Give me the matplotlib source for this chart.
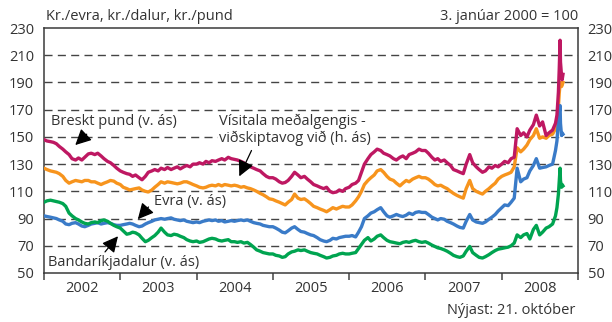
import numpy as np
import pandas as pd
import matplotlib
matplotlib.use('Agg')
import matplotlib.pyplot as plt

plt.rcParams['font.family'] = ['Open Sans', 'DejaVu Sans']

# dates: 1st and 15th of each month, then denser points through the October crash
dates = list(pd.date_range('2002-01-01', '2008-09-15', freq='SMS'))
dates += list(pd.to_datetime(['2008-09-22', '2008-09-29', '2008-10-03', '2008-10-07',
                              '2008-10-09', '2008-10-14', '2008-10-17', '2008-10-21']))

# Breskt pund (kr./pund), left axis
gbp = [148, 147, 146.5, 146, 145, 143, 141, 139, 137, 134, 133, 134.5, 133, 135, 137.5, 138, 137, 138, 136, 134, 132, 131, 129, 127,
       125, 124, 123, 122.5, 121, 122, 120, 118.5, 121, 124, 125, 126, 125, 127, 126, 127.5, 126, 127, 128, 126.5, 128, 129, 128, 130,
       130, 131, 130, 132, 131, 132.5, 132, 133, 134, 133, 135, 134, 133.5, 133, 132, 131, 129, 128, 127, 126, 125, 123, 121, 120,
       120, 119, 117, 116, 116.5, 118, 121, 124, 122, 120, 121, 119, 117, 115, 114, 113, 112, 113, 110, 109, 109.5, 111, 110, 112,
       113, 115, 116, 118, 124, 130, 134, 137, 139, 141, 140, 138, 137, 136, 134, 133, 135, 136, 134, 137, 138, 139, 141, 140,
       140, 138, 135, 133, 134, 132, 133, 131, 129, 126, 125, 124, 123, 130, 137, 131, 128, 126, 124, 125, 128, 127, 129, 128,
       130, 132, 131, 134, 135, 156, 151, 153, 150, 155, 159, 166, 158, 161, 151, 153, 155, 160,
       166, 183, 200, 221, 205, 195, 192, 196]

# Vísitala meðalgengis - viðskiptavog við (3. jan 2000 = 100), right axis
isk_index = [127, 126, 125, 124.5, 124, 123, 121, 118, 116, 117, 118, 117.5, 117, 118, 118, 117, 117, 116, 115, 116, 117, 118, 117.5, 116,
             115, 113, 112, 111, 111.5, 112, 112.5, 111, 110, 109.5, 111, 113, 115, 117, 116, 117, 116.5, 116, 115.5, 116, 117, 117, 116, 115,
             114, 113, 112.5, 113, 114, 114.5, 114, 115, 114, 115, 114.5, 114, 114.5, 114, 113, 113.5, 112.5, 112, 111, 110, 108.5, 107.5, 106, 104.5,
             104, 103, 102, 101, 100, 102, 104, 108, 105, 104, 104.5, 103, 101, 99, 98, 97, 96, 95, 96.5, 98, 97, 98, 99, 98.5,
             98.5, 100, 103, 106, 110, 115, 118, 120, 122, 125, 126, 124, 121, 119, 118, 116, 114, 116, 118, 117, 119, 120, 121, 120,
             120, 119, 117, 115, 114, 114.5, 113, 112, 110, 108.5, 107, 106, 105, 112, 118, 112, 110, 109, 108, 110, 112, 114, 116, 119,
             121, 122, 123, 124, 128, 142, 139, 141, 144, 148, 151, 156, 149, 150, 149, 151, 152, 156,
             160, 172, 182, 189, 190, 187, 188, 190]

# Evra (kr./evra), left axis
eur = [92, 91.5, 91, 90.5, 90, 89, 88, 86, 85.5, 86.5, 87, 86, 84.5, 84, 85, 86, 86.5, 87, 86, 86.5, 87, 86.5, 85.5, 85,
       85, 85.5, 86, 86.5, 86, 85, 84, 84.5, 86, 87, 88, 89, 89.5, 90, 89.5, 90, 90.5, 89.5, 89, 88.5, 89, 88, 87.5, 87,
       87.5, 87, 88, 88.5, 89, 88.5, 89, 88, 88.5, 87.5, 88, 88.5, 88, 88.5, 89, 88.5, 89, 88, 87, 86.5, 86, 85, 84.5, 84,
       84, 83, 81.5, 80, 79.5, 81, 83, 84, 82, 80.5, 80, 79, 78, 77.5, 76, 74.5, 73.5, 73, 74, 75.5, 75, 76, 76.5, 77,
       77, 77.5, 76.5, 80, 84, 90, 92, 94, 95, 96.5, 98, 95, 92, 91, 92, 93, 92, 91.5, 92.5, 94, 93, 94.5, 95, 94.5,
       94.5, 93, 91, 90, 89, 90, 89.5, 88, 87, 86, 84.5, 83.5, 83, 88, 93, 89, 87.5, 87, 86.5, 87.5, 89.5, 91, 93, 95.5,
       98, 100, 99.5, 102, 105, 127, 117, 119, 120, 125, 129, 134, 127, 127.5, 128, 129, 130, 140,
       147, 162, 168, 173, 160, 151, 153, 152]

# Bandaríkjadalur (kr./dalur), left axis
usd = [102, 103, 103.5, 103, 102.5, 102, 101, 99, 94, 92, 90, 89, 87.5, 86.5, 86, 87, 87.5, 87, 88.5, 89, 88, 86.5, 85, 84,
       83, 81, 78.5, 79, 80, 79.5, 78, 75.5, 73, 74, 76, 77.5, 80, 83, 80, 78, 77.5, 78.5, 78, 77, 76, 74.5, 73.5, 73,
       73.5, 72.5, 73, 74, 75, 75.5, 75, 74, 73.5, 74, 74.5, 73, 73, 72.5, 73, 72, 72.5, 71, 69, 67, 66, 65, 64.5, 64,
       64, 63, 62.5, 61.5, 62, 64, 65.5, 66, 67, 66.5, 67, 66, 65, 64.5, 64, 63, 62, 61, 61.5, 62.5, 63, 64, 64.5, 64,
       64, 64.5, 65, 68, 71, 74, 76, 73.5, 75, 77, 78, 76, 74, 73, 72.5, 72, 71.5, 72.5, 73, 72.5, 73.5, 74, 73, 72.5,
       73, 72, 70.5, 69.5, 68.5, 68, 67, 66, 64.5, 63, 62, 61.5, 62.5, 66, 69.5, 65, 63, 61.5, 61, 62, 63.5, 65, 66.5, 67.5,
       68, 68.5, 69, 70, 72, 78, 76, 78, 79, 75, 82, 85, 78, 80, 83, 84, 86, 92,
       98, 108, 118, 127, 118, 113, 115, 114]

years = [2002, 2003, 2004, 2005, 2006, 2007, 2008]
yticks = [50, 70, 90, 110, 130, 150, 170, 190, 210, 230]

# decimal years for the x axis
t = np.array([d.year + (d.dayofyear - 1) / (366 if d.is_leap_year else 365) for d in dates])

c_gbp = '#be1862'
c_idx = '#f7941d'
c_eur = '#3a7bc8'
c_usd = '#00a450'
txt = '#333333'

fig = plt.figure(figsize=(6.12, 3.22), dpi=100)
ax = fig.add_axes([44 / 612, 1 - 273 / 322, 534 / 612, 245 / 322])

lw = 2.4
ax.plot(t, isk_index, color=c_idx, lw=lw, zorder=3)
ax.plot(t, eur, color=c_eur, lw=lw, zorder=4)
ax.plot(t, usd, color=c_usd, lw=lw, zorder=4)
ax.plot(t, gbp, color=c_gbp, lw=lw, zorder=5)

ax.set_xlim(2002, 2009)
ax.set_ylim(50, 230)
ax.set_yticks(yticks)
for v in yticks[1:-1]:
    ax.axhline(v, color='#444444', lw=1.0, ls=(0, (5.8, 3.8)), zorder=1)

ax.set_xticks(range(2002, 2010))
ax.set_xticklabels([])
ax.set_xticks([y + 0.5 for y in years], minor=True)
ax.set_xticklabels([str(y) for y in years], minor=True, fontsize=10.5, color=txt)
ax.tick_params(axis='x', which='major', direction='out', length=5, width=1.1, color='#444444')
ax.tick_params(axis='x', which='minor', length=0, pad=6)
ax.tick_params(axis='y', length=0, pad=7, labelsize=10.5, labelcolor=txt)

for s in ax.spines.values():
    s.set_color('#3a3a3a')
    s.set_linewidth(1.1)

ax2 = ax.twinx()
ax2.set_ylim(50, 230)
ax2.set_yticks(yticks)
ax2.tick_params(axis='y', length=0, pad=7, labelsize=10.5, labelcolor=txt)
for s in ax2.spines.values():
    s.set_visible(False)

# labels and arrows
arrow = dict(arrowstyle='-|>,head_length=0.8,head_width=0.4', color='black', lw=0.9,
             shrinkA=0, shrinkB=0, mutation_scale=12)
ax.annotate('', xy=(2002.41, 144), xytext=(2002.56, 152), arrowprops=arrow, zorder=6)
ax.text(2002.09, 161, 'Breskt pund (v. ás)', fontsize=10.5, color=txt, va='center', ha='left', zorder=6)

ax.text(2004.30, 155.5, 'Vísitala meðalgengis -\nviðskiptavog við (h. ás)', fontsize=10.5, color=txt,
        va='center', ha='left', linespacing=1.15, zorder=6,
        bbox=dict(facecolor='white', edgecolor='none', pad=1))
ax.annotate('', xy=(2004.56, 121), xytext=(2004.72, 140), arrowprops=arrow, zorder=6)

ax.text(2003.44, 102.2, 'Evra (v. ás)', fontsize=10.5, color=txt, va='center', ha='left', zorder=6)
ax.annotate('', xy=(2003.23, 89.5), xytext=(2003.37, 98.5), arrowprops=arrow, zorder=6)

ax.text(2002.05, 58, 'Bandaríkjadalur (v. ás)', fontsize=10.5, color=txt, va='center', ha='left', zorder=6)
ax.annotate('', xy=(2002.97, 77), xytext=(2002.80, 65.5), arrowprops=arrow, zorder=6)

fig.text(46 / 612, 1 - 16 / 322, 'Kr./evra, kr./dalur, kr./pund', fontsize=10.5, color=txt, ha='left', va='center')
fig.text(578 / 612, 1 - 16 / 322, '3. janúar 2000 = 100', fontsize=10.5, color=txt, ha='right', va='center')
fig.text(575 / 612, 1 - 310 / 322, 'Nýjast: 21. október', fontsize=10.5, color=txt, ha='right', va='center')

fig.savefig('out.png', dpi=100)
